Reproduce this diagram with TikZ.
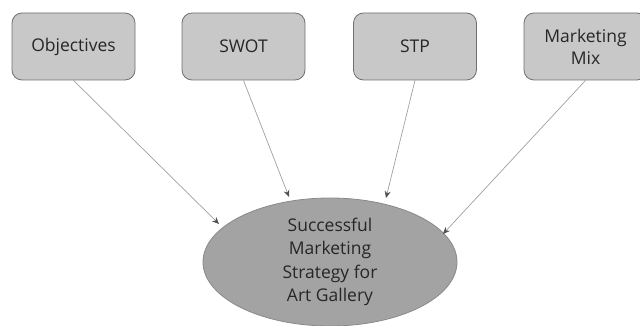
\documentclass[tikz,border=0pt]{standalone}
\usepackage{fontspec}
\setmainfont{Open Sans}
\usetikzlibrary{shapes.geometric,arrows.meta}
\definecolor{boxfill}{HTML}{C8C8C8}
\definecolor{boxline}{HTML}{707070}
\definecolor{ellfill}{HTML}{A3A3A3}
\definecolor{ellline}{HTML}{8A8A8A}
\definecolor{arrline}{HTML}{A0A0A0}
\definecolor{arrtip}{HTML}{505050}
\begin{document}
\begin{tikzpicture}[x=1pt,y=-1pt,
  box/.style={draw=boxline,fill=boxfill,rounded corners=10pt,line width=0.8pt,
    minimum width=123pt,minimum height=67pt,align=center,inner sep=0pt,
    font=\fontsize{17.5}{22}\selectfont,text=black!85},
  goal/.style={ellipse,draw=ellline,fill=ellfill,line width=0.8pt,
    minimum width=254pt,minimum height=128pt,align=center,inner sep=0pt,
    font=\fontsize{17.5}{23.5}\selectfont,text=black!85},
  conn/.style={draw=arrline,line width=0.7pt,-{Stealth[length=7pt,width=6pt,color=arrtip]}}]
\useasboundingbox (0,0) rectangle (640,326);
\begin{scope}
\clip (0,0) rectangle (640,326);
\node[box] (obj) at (73.5,46.5) {Objectives};
\node[box] (swot) at (243.5,46.5) {SWOT};
\node[box] (stp) at (415,46.5) {STP};
\node[box] (mix) at (585.5,46.5) {Marketing\\Mix};
\node[goal] (succ) at (330,262) {Successful\\Marketing\\Strategy for\\Art Gallery};
\coordinate (t1) at (219,224);
\coordinate (t2) at (289,197);
\coordinate (t3) at (386,198);
\coordinate (t4) at (443,234);
\draw[conn] ([xshift=0pt]obj.south) ++(0,0) -- (t1);
\draw[conn] (swot.south) -- (t2);
\draw[conn] (stp.south) -- (t3);
\draw[conn] (mix.south) -- (t4);
\end{scope}
\end{tikzpicture}
\end{document}
